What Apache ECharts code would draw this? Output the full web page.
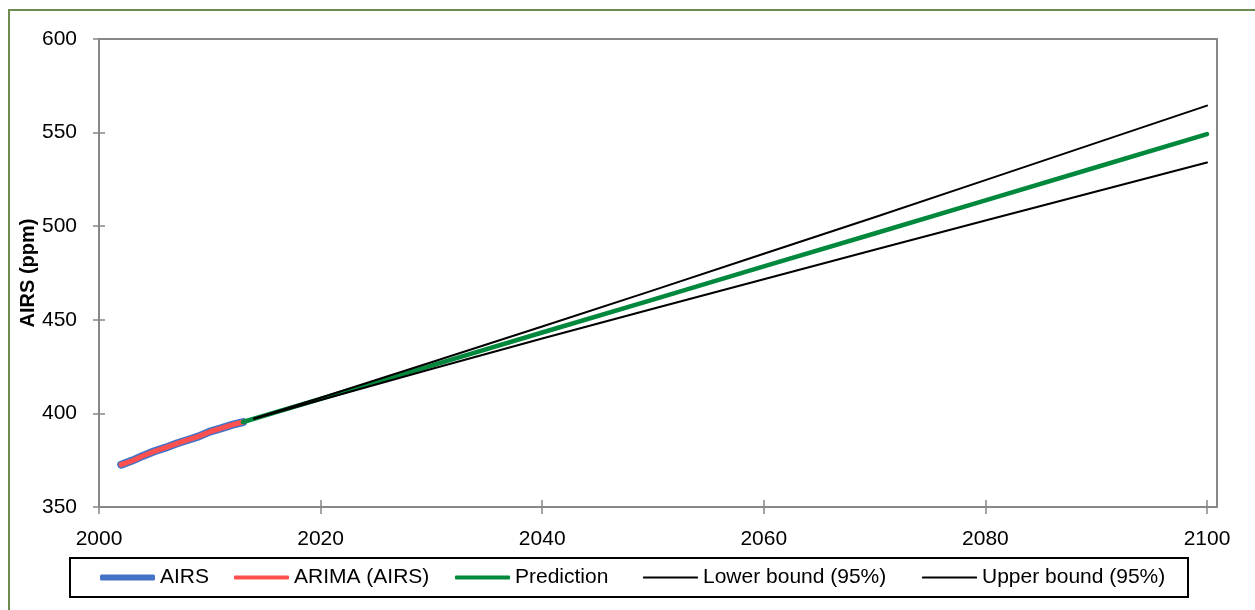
<!DOCTYPE html>
<html>
<head>
<meta charset="utf-8">
<script src="https://cdn.jsdelivr.net/npm/echarts@6/dist/echarts.min.js"></script>
<style>
html,body{margin:0;padding:0;background:#fff;}
#chart{width:1255px;height:610px;}
</style>
</head>
<body>
<div id="chart"></div>
<script>
var airsYears  = [2002, 2003, 2004, 2005, 2006, 2007, 2008, 2009, 2010, 2011, 2012, 2013];
var airsValues = [372.6, 374.8, 377.4, 379.8, 381.7, 383.9, 385.8, 387.7, 390.3, 392.0, 393.9, 395.4];
var arimaValues = [372.6, 374.7, 377.4, 379.7, 381.7, 383.8, 385.8, 387.7, 390.2, 392.0, 393.9, 395.4];

// Forecast
var predYears  = [2013, 2020, 2030, 2040, 2050, 2060, 2070, 2080, 2090, 2100];
var predValues = [395.4, 407.8, 425.5, 443.2, 460.8, 478.5, 496.1, 513.8, 531.5, 549.2];
var boundYears = [2014, 2020, 2030, 2040, 2050, 2060, 2070, 2080, 2090, 2100];
var lowerValues = [397.1, 407.2, 423.7, 440.0, 455.9, 471.7, 487.4, 503.0, 518.5, 534.0];
var upperValues = [397.3, 408.4, 427.3, 446.4, 465.7, 485.3, 504.8, 524.6, 544.5, 564.4];

var seriesNames = ['AIRS', 'ARIMA (AIRS)', 'Prediction', 'Lower bound (95%)', 'Upper bound (95%)'];
var xTicks = [2000, 2020, 2040, 2060, 2080, 2100];
var yTicks = [350, 400, 450, 500, 550, 600];

function pairs(xs, ys) { return xs.map(function (x, i) { return [x, ys[i]]; }); }

var FONT = '"Liberation Sans", Arial, sans-serif';
var chart = echarts.init(document.getElementById('chart'), null, {renderer: 'canvas'});

var legendLefts = [100, 234, 455, 643, 922];
var legendThick = [6, 4, 4, 2, 2];
var legends = seriesNames.map(function (n, i) {
  return {
    data: [n], left: legendLefts[i], top: 567, orient: 'horizontal',
    icon: 'roundRect',
    itemWidth: 55, itemHeight: legendThick[i], padding: 0,
    textStyle: {fontFamily: FONT, fontSize: 21, color: '#000'},
    selectedMode: false
  };
});

function lineSeries(name, data, color, width) {
  return {
    name: name, type: 'line', data: data, symbol: 'none', showSymbol: false, smooth: false,
    xAxisIndex: 0, yAxisIndex: 0,
    lineStyle: {color: color, width: width, cap: 'round', join: 'round'},
    itemStyle: {color: color},
    emphasis: {disabled: true}, animation: false
  };
}

var axisLabelX = {fontFamily: FONT, fontSize: 21, color: '#000', margin: 22,
  formatter: function (v) { return String(v); }};
var axisLabelY = {fontFamily: FONT, fontSize: 21, color: '#000', margin: 22};

chart.setOption({
  animation: false,
  backgroundColor: '#fff',
  graphic: [
    {type: 'rect', z: -10, shape: {x: 9, y: 10, width: 1260, height: 620},
     style: {fill: '#fff', stroke: '#6f8c50', lineWidth: 2}},
    {type: 'rect', z: 1, shape: {x: 99, y: 39, width: 1118, height: 468},
     style: {fill: 'none', stroke: '#878787', lineWidth: 2}},
    {type: 'rect', z: 1, shape: {x: 70, y: 558, width: 1118, height: 39},
     style: {fill: 'none', stroke: '#000', lineWidth: 2}}
  ],
  grid: {left: 99, top: 39, right: 48, bottom: 103, containLabel: false},
  legend: legends,
  xAxis: [
    {type: 'value', min: xTicks[0], max: xTicks[xTicks.length - 1], interval: 20,
     axisLine: {show: true, lineStyle: {color: '#878787', width: 2}},
     axisTick: {show: true, inside: false, length: 7, lineStyle: {color: '#878787', width: 1.5}},
     axisLabel: axisLabelX, splitLine: {show: false}},
    {type: 'value', position: 'bottom', min: xTicks[0], max: xTicks[xTicks.length - 1], interval: 20,
     axisLine: {show: false},
     axisTick: {show: true, inside: true, length: 7, lineStyle: {color: '#878787', width: 1.5}},
     axisLabel: {show: false}, splitLine: {show: false}}
  ],
  yAxis: [
    {type: 'value', min: yTicks[0], max: yTicks[yTicks.length - 1], interval: 50,
     name: 'AIRS (ppm)', nameLocation: 'middle', nameGap: 61, nameMoveOverlap: false,
     nameTextStyle: {fontFamily: FONT, fontSize: 20, fontWeight: 'bold', color: '#000'},
     axisLine: {show: true, lineStyle: {color: '#878787', width: 2}},
     axisTick: {show: true, inside: false, length: 6, lineStyle: {color: '#878787', width: 1.5}},
     axisLabel: axisLabelY, splitLine: {show: false}},
    {type: 'value', position: 'left', min: yTicks[0], max: yTicks[yTicks.length - 1], interval: 50,
     axisLine: {show: false},
     axisTick: {show: true, inside: true, length: 6, lineStyle: {color: '#878787', width: 1.5}},
     axisLabel: {show: false}, splitLine: {show: false}}
  ],
  series: [
    lineSeries(seriesNames[0], pairs(airsYears, airsValues), '#4472C4', 8),
    lineSeries(seriesNames[1], pairs(airsYears, arimaValues), '#FF5050', 5),
    lineSeries(seriesNames[2], pairs(predYears, predValues), '#00893D', 4.5),
    lineSeries(seriesNames[3], pairs(boundYears, lowerValues), '#000000', 2),
    lineSeries(seriesNames[4], pairs(boundYears, upperValues), '#000000', 2)
  ]
});
</script>
</body>
</html>
